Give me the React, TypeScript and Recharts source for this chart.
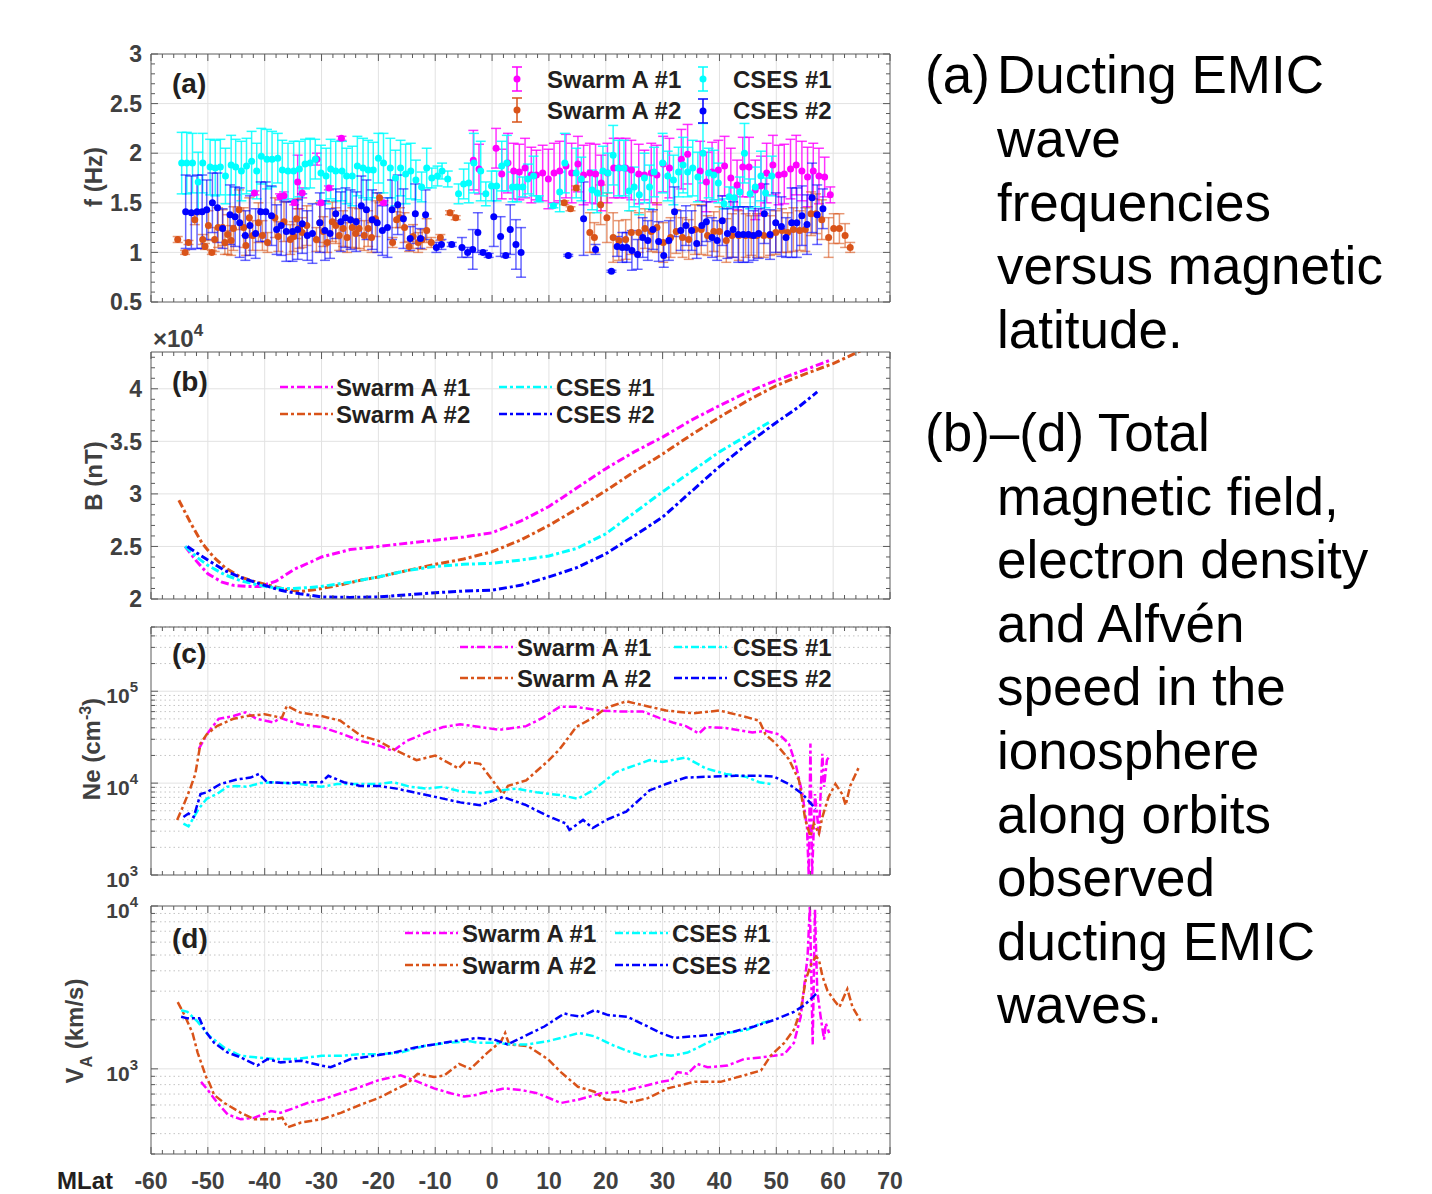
import React from "react";
import { ComposedChart, Line, Scatter, ErrorBar, XAxis, YAxis, CartesianGrid, ReferenceLine } from "recharts";

// ---------------- colours / fonts ----------------
const C_SW1 = "#ff00ff";
const C_SW2 = "#d95319";
const C_CS1 = "#00ffff";
const C_CS2 = "#0000ff";
const FRAME = "#5a5a5a";
const TICK_C = "#404040";
const TEXT_C = "#231f20";
const FONT = "Arial, 'Liberation Sans', Helvetica, sans-serif";
const DASH = "8 3 3 3";

// ---------------- axes ----------------
const X_DOMAIN: [number, number] = [-60, 70];
const X_GRID = [-50, -40, -30, -20, -10, 0, 10, 20, 30, 40, 50, 60];
const X_TICKS: number[] = [];
for (let v = -60; v <= 70; v += 2) X_TICKS.push(v);

const A_Y_MAJOR = [0.5, 1, 1.5, 2, 2.5, 3];
const A_Y_LABELS = ["0.5", "1", "1.5", "2", "2.5", "3"];
const A_Y_TICKS: number[] = [];
for (let i = 5; i <= 30; i++) A_Y_TICKS.push(i / 10);

const B_Y_MAJOR = [2, 2.5, 3, 3.5, 4];
const B_Y_LABELS = ["2", "2.5", "3", "3.5", "4"];
const B_Y_TICKS: number[] = [];
for (let i = 20; i <= 43; i++) B_Y_TICKS.push(i / 10);

const C_Y_MAJOR = [1000, 10000, 100000];
const C_Y_TICKS = [1000, 2000, 3000, 4000, 5000, 6000, 7000, 8000, 9000, 10000, 20000, 30000, 40000, 50000, 60000, 70000, 80000, 90000, 100000, 200000, 300000, 400000, 500000];
const C_Y_MINOR = C_Y_TICKS.filter((v) => !C_Y_MAJOR.includes(v));

const D_Y_MAJOR = [1000, 10000];
const D_Y_TICKS = [300, 400, 500, 600, 700, 800, 900, 1000, 2000, 3000, 4000, 5000, 6000, 7000, 8000, 9000, 10000];
const D_Y_MINOR = D_Y_TICKS.filter((v) => !D_Y_MAJOR.includes(v) && v !== 300);

// ---------------- panel (a): [MLat, f (Hz), error] ----------------
const freqSwarm1: [number, number, number][] = [
  [-41.8, 1.6, 0.02], [-37.3, 1.56, 0.03], [-36.6, 1.57, 0.04], [-34.8, 1.5, 0.02], [-34.2, 1.71, 0.27],
  [-33.4, 1.6, 0.05], [-30.8, 1.94, 0.06], [-30.1, 1.5, 0.02], [-28.7, 1.65, 0.02], [-26.5, 2.15, 0.02],
  [-19.1, 1.5, 0.02], [-3.3, 1.93, 0.3], [-2.3, 1.84, 0.25], [0.7, 2.05, 0.2], [1.7, 1.79, 0.25],
  [2.8, 1.9, 0.3], [3.8, 1.82, 0.28], [4.8, 1.81, 0.28], [5.8, 1.85, 0.3], [6.9, 1.78, 0.28], [7.8, 1.78, 0.25],
  [8.9, 1.8, 0.28], [9.9, 1.74, 0.3], [10.9, 1.8, 0.3], [11.9, 1.82, 0.3], [13.0, 1.87, 0.32], [14.0, 1.8, 0.3],
  [15.1, 1.89, 0.28], [16.1, 1.78, 0.3], [17.2, 1.8, 0.3], [18.2, 1.79, 0.3], [19.2, 1.7, 0.28], [20.3, 1.8, 0.3],
  [21.4, 1.85, 0.3], [22.4, 1.85, 0.3], [23.5, 1.85, 0.3], [24.5, 1.83, 0.3], [25.8, 1.79, 0.3], [26.8, 1.78, 0.25],
  [28.0, 1.8, 0.3], [29.0, 1.78, 0.3], [30.1, 1.89, 0.28], [31.2, 1.85, 0.3], [33.3, 1.94, 0.3], [34.4, 1.99, 0.3],
  [36.6, 1.82, 0.3], [37.7, 1.71, 0.3], [38.7, 1.81, 0.3], [39.8, 1.83, 0.3], [40.9, 1.87, 0.3], [42.0, 1.75, 0.3],
  [43.1, 1.68, 0.25], [44.1, 1.86, 0.3], [45.2, 1.86, 0.3], [46.3, 1.63, 0.3], [47.3, 1.67, 0.3], [48.3, 1.8, 0.3],
  [49.4, 1.88, 0.3], [50.4, 1.78, 0.3], [51.4, 1.79, 0.3], [52.5, 1.84, 0.3], [53.5, 1.88, 0.3], [54.5, 1.82, 0.3],
  [55.5, 1.76, 0.3], [56.5, 1.82, 0.28], [57.5, 1.77, 0.28], [58.5, 1.76, 0.2], [59.5, 1.58, 0.08],
];

const freqSwarm2: [number, number, number][] = [
  [-55.3, 1.13, 0.03], [-54.0, 1.0, 0.02], [-53.4, 1.1, 0.02], [-52.3, 1.33, 0.05], [-50.9, 1.13, 0.05],
  [-50.5, 1.06, 0.03], [-49.9, 1.27, 0.15], [-49.3, 1.0, 0.02], [-48.8, 1.13, 0.12], [-48.2, 1.25, 0.2],
  [-47.4, 1.25, 0.18], [-47.0, 1.1, 0.12], [-46.5, 1.18, 0.2], [-45.9, 1.12, 0.15], [-45.5, 1.24, 0.22],
  [-44.5, 1.43, 0.2], [-43.7, 1.25, 0.2], [-43.3, 1.07, 0.1], [-42.7, 1.35, 0.2], [-42.1, 1.17, 0.15],
  [-41.1, 1.3, 0.2], [-40.4, 1.17, 0.15], [-39.5, 1.1, 0.1], [-38.2, 1.35, 0.2], [-37.6, 1.16, 0.15],
  [-36.6, 1.31, 0.2], [-35.5, 1.13, 0.15], [-34.9, 1.16, 0.15], [-34.4, 1.34, 0.2], [-33.9, 1.24, 0.2],
  [-33.4, 1.2, 0.15], [-32.6, 1.27, 0.2], [-30.9, 1.13, 0.12], [-30.3, 1.3, 0.2], [-29.7, 1.21, 0.15],
  [-29.0, 1.1, 0.1], [-28.1, 1.31, 0.2], [-27.5, 1.27, 0.18], [-26.9, 1.17, 0.15], [-26.2, 1.24, 0.18],
  [-25.5, 1.15, 0.15], [-24.6, 1.25, 0.2], [-24.0, 1.19, 0.15], [-23.4, 1.24, 0.2], [-22.5, 1.17, 0.15],
  [-21.8, 1.24, 0.18], [-21.2, 1.15, 0.15], [-20.5, 1.34, 0.18], [-19.8, 1.55, 0.05], [-17.5, 1.1, 0.05],
  [-16.8, 1.33, 0.08], [-16.2, 1.35, 0.1], [-15.4, 1.25, 0.15], [-14.6, 1.06, 0.05], [-13.9, 1.16, 0.12],
  [-13.0, 1.1, 0.1], [-12.3, 1.13, 0.1], [-11.5, 1.22, 0.12], [-10.7, 1.1, 0.05], [-9.1, 1.15, 0.03],
  [-7.4, 1.4, 0.02], [-6.4, 1.35, 0.02], [12.7, 1.5, 0.02], [13.8, 1.44, 0.02], [14.8, 1.65, 0.02],
  [17.2, 1.2, 0.2], [18.0, 1.15, 0.15], [19.1, 1.48, 0.2], [20.2, 1.35, 0.25], [21.3, 1.15, 0.25],
  [22.3, 1.12, 0.2], [23.5, 1.13, 0.2], [24.5, 1.2, 0.22], [25.8, 1.2, 0.2], [26.9, 1.24, 0.2],
  [28.0, 1.21, 0.2], [29.0, 1.25, 0.25], [30.1, 1.1, 0.2], [31.4, 1.15, 0.2], [32.4, 1.21, 0.22],
  [33.5, 1.15, 0.2], [34.6, 1.13, 0.2], [35.7, 1.23, 0.25], [36.8, 1.23, 0.25], [37.9, 1.17, 0.2],
  [39.0, 1.21, 0.2], [40.0, 1.21, 0.25], [41.2, 1.12, 0.22], [42.2, 1.17, 0.22], [43.4, 1.17, 0.25],
  [44.6, 1.17, 0.22], [45.6, 1.17, 0.2], [46.6, 1.17, 0.22], [47.8, 1.17, 0.22], [48.9, 1.17, 0.2],
  [49.9, 1.2, 0.22], [51.0, 1.22, 0.22], [52.0, 1.2, 0.2], [53.0, 1.23, 0.22], [54.1, 1.22, 0.2],
  [55.1, 1.23, 0.22], [56.1, 1.39, 0.22], [57.0, 1.39, 0.2], [58.0, 1.33, 0.2], [59.2, 1.15, 0.2],
  [60.1, 1.24, 0.15], [61.1, 1.24, 0.15], [62.1, 1.17, 0.12], [63.0, 1.05, 0.05],
];

const freqCses1: [number, number, number][] = [
  [-54.6, 1.9, 0.31], [-53.7, 1.9, 0.31], [-52.7, 1.9, 0.3], [-51.7, 1.71, 0.3], [-50.9, 1.9, 0.3],
  [-49.6, 1.86, 0.28], [-48.7, 1.85, 0.28], [-47.8, 1.86, 0.28], [-46.9, 1.77, 0.28], [-45.9, 1.88, 0.3],
  [-45.1, 1.86, 0.28], [-44.1, 1.82, 0.3], [-43.2, 1.87, 0.28], [-42.3, 1.92, 0.3], [-41.4, 1.82, 0.28],
  [-40.6, 1.97, 0.28], [-39.6, 1.94, 0.3], [-38.7, 1.94, 0.28], [-37.7, 1.95, 0.25], [-36.9, 1.83, 0.3],
  [-35.9, 1.82, 0.28], [-34.9, 1.82, 0.3], [-33.9, 1.84, 0.28], [-32.9, 1.89, 0.25], [-32.0, 1.9, 0.25],
  [-31.1, 1.94, 0.2], [-30.1, 1.8, 0.28], [-29.2, 1.77, 0.28], [-28.4, 1.84, 0.3], [-27.5, 1.82, 0.3],
  [-26.4, 1.82, 0.3], [-25.6, 1.77, 0.28], [-24.6, 1.77, 0.3], [-23.7, 1.87, 0.3], [-22.7, 1.85, 0.3],
  [-21.8, 1.83, 0.3], [-20.9, 1.83, 0.28], [-20.0, 1.95, 0.25], [-19.1, 1.9, 0.3], [-17.9, 1.85, 0.3],
  [-17.0, 1.75, 0.28], [-16.1, 1.85, 0.28], [-15.2, 1.79, 0.3], [-14.3, 1.82, 0.28], [-13.4, 1.73, 0.2],
  [-12.4, 1.66, 0.15], [-11.5, 1.85, 0.2], [-10.6, 1.75, 0.1], [-9.6, 1.77, 0.1], [-8.8, 1.82, 0.08],
  [-7.8, 1.74, 0.08], [-5.9, 1.59, 0.1], [-5.0, 1.69, 0.15], [-4.1, 1.7, 0.2], [-3.2, 1.9, 0.3],
  [-2.0, 1.82, 0.3], [-1.1, 1.59, 0.12], [-0.1, 1.67, 0.15], [0.8, 1.67, 0.15], [1.7, 1.87, 0.25],
  [2.6, 1.9, 0.28], [3.6, 1.66, 0.15], [4.4, 1.66, 0.15], [5.4, 1.66, 0.1], [6.3, 1.74, 0.15],
  [7.3, 1.77, 0.2], [8.2, 1.54, 0.03], [10.8, 1.47, 0.02], [11.9, 1.61, 0.2], [12.8, 1.9, 0.3],
  [14.8, 1.8, 0.25], [15.7, 1.74, 0.22], [17.6, 1.63, 0.2], [18.5, 1.6, 0.2], [19.5, 1.82, 0.25],
  [20.4, 1.8, 0.2], [21.3, 1.98, 0.3], [22.2, 1.85, 0.28], [23.2, 1.85, 0.28], [24.1, 1.62, 0.2],
  [25.0, 1.66, 0.2], [25.9, 1.58, 0.2], [26.8, 1.75, 0.25], [27.7, 1.66, 0.22], [28.5, 1.81, 0.25],
  [30.0, 1.9, 0.3], [30.9, 1.77, 0.25], [31.9, 1.73, 0.25], [32.8, 1.81, 0.25], [33.6, 1.88, 0.28],
  [34.4, 1.81, 0.25], [35.3, 1.85, 0.28], [36.2, 1.76, 0.25], [37.1, 2.0, 0.3], [38.1, 1.8, 0.25],
  [39.0, 1.78, 0.25], [39.8, 1.7, 0.2], [40.8, 1.49, 0.05], [41.7, 1.56, 0.1], [42.6, 1.55, 0.1],
  [43.6, 1.61, 0.15], [44.4, 2.0, 0.3], [45.4, 1.59, 0.15], [46.3, 1.66, 0.2], [47.3, 1.77, 0.25],
  [48.1, 1.6, 0.15], [49.2, 1.77, 0.2],
];

const freqCses2: [number, number, number][] = [
  [-53.9, 1.41, 0.37], [-52.9, 1.4, 0.37], [-51.9, 1.41, 0.37], [-51.0, 1.41, 0.37], [-50.2, 1.43, 0.3],
  [-49.2, 1.5, 0.3], [-48.3, 1.45, 0.35], [-47.4, 1.24, 0.2], [-46.1, 1.38, 0.3], [-45.2, 1.36, 0.3],
  [-44.4, 1.3, 0.35], [-43.4, 1.17, 0.25], [-42.6, 1.27, 0.3], [-41.6, 1.19, 0.25], [-40.7, 1.41, 0.3],
  [-39.8, 1.41, 0.3], [-38.8, 1.37, 0.3], [-37.9, 1.23, 0.25], [-37.1, 1.27, 0.3], [-36.2, 1.21, 0.3],
  [-35.1, 1.21, 0.3], [-34.2, 1.23, 0.3], [-33.4, 1.29, 0.3], [-32.5, 1.17, 0.25], [-31.6, 1.19, 0.3],
  [-30.3, 1.3, 0.3], [-29.4, 1.22, 0.3], [-28.5, 1.19, 0.25], [-27.5, 1.39, 0.25], [-26.6, 1.31, 0.3],
  [-25.8, 1.35, 0.3], [-24.9, 1.33, 0.3], [-23.9, 1.31, 0.3], [-23.0, 1.47, 0.3], [-22.1, 1.43, 0.3],
  [-21.1, 1.33, 0.3], [-20.2, 1.3, 0.3], [-19.3, 1.22, 0.25], [-18.4, 1.25, 0.3], [-17.6, 1.43, 0.3],
  [-16.6, 1.48, 0.3], [-15.6, 1.34, 0.3], [-14.4, 1.14, 0.12], [-13.5, 1.39, 0.3], [-12.6, 1.14, 0.1],
  [-11.7, 1.38, 0.25], [-9.8, 1.05, 0.05], [-8.9, 1.08, 0.05], [-7.1, 1.08, 0.02], [-5.3, 1.05, 0.1],
  [-4.3, 1.0, 0.05], [-3.4, 1.03, 0.2], [-2.5, 1.2, 0.2], [-1.6, 1.0, 0.02], [-0.6, 0.97, 0.02],
  [0.3, 1.36, 0.3], [1.5, 1.16, 0.2], [2.4, 0.97, 0.02], [3.2, 1.23, 0.25], [4.2, 1.08, 0.25],
  [5.1, 1.0, 0.25], [13.4, 0.97, 0.01], [16.1, 1.34, 0.37], [18.2, 1.03, 0.05], [21.0, 0.81, 0.01],
  [22.0, 1.06, 0.1], [22.9, 1.05, 0.15], [23.7, 1.05, 0.15], [24.6, 1.02, 0.2], [25.6, 0.98, 0.15],
  [26.5, 1.15, 0.2], [27.4, 1.12, 0.2], [28.3, 1.23, 0.2], [29.3, 1.11, 0.2], [30.2, 0.97, 0.12],
  [31.1, 1.12, 0.2], [32.1, 1.41, 0.25], [33.2, 1.22, 0.2], [34.1, 1.27, 0.2], [35.1, 1.22, 0.2],
  [36.0, 1.09, 0.15], [36.9, 1.27, 0.2], [37.7, 1.31, 0.2], [38.7, 1.15, 0.2], [39.6, 1.12, 0.2],
  [40.5, 1.32, 0.25], [41.4, 1.19, 0.25], [42.4, 1.23, 0.28], [43.3, 1.18, 0.28], [44.2, 1.18, 0.28],
  [45.1, 1.18, 0.28], [46.0, 1.17, 0.25], [46.9, 1.19, 0.25], [47.9, 1.39, 0.3], [48.9, 1.18, 0.25],
  [49.9, 1.3, 0.3], [50.9, 1.26, 0.3], [51.7, 1.15, 0.2], [52.7, 1.3, 0.35], [53.6, 1.3, 0.35],
  [54.5, 1.37, 0.3], [55.4, 1.28, 0.3], [56.3, 1.55, 0.35], [57.2, 1.38, 0.3], [58.2, 1.44, 0.2],
];

// ---------------- panel (b): [MLat, B (x10^4 nT)] ----------------
const bSwarm1: [number, number][] = [
  [-54, 2.5], [-52, 2.36], [-50, 2.24], [-47.5, 2.16], [-45.5, 2.13], [-43, 2.12], [-40.8, 2.12], [-38, 2.17],
  [-34.9, 2.28], [-32, 2.35], [-30, 2.4], [-25, 2.47], [-20, 2.5], [-15, 2.53], [-10, 2.56], [-5, 2.59],
  [0, 2.63], [5, 2.74], [10, 2.88], [15, 3.06], [20, 3.24], [25, 3.4], [30, 3.54], [35, 3.7], [40, 3.84],
  [45, 3.97], [50, 4.08], [55, 4.18], [59.4, 4.27],
];
const bSwarm2: [number, number][] = [
  [-55.1, 2.94], [-53, 2.72], [-51, 2.53], [-49, 2.4], [-47, 2.3], [-44.3, 2.21], [-42, 2.17], [-40, 2.14],
  [-37, 2.1], [-33.8, 2.07], [-31, 2.09], [-27, 2.13], [-23, 2.18], [-20, 2.21], [-15, 2.27], [-10, 2.33],
  [-5, 2.38], [0, 2.45], [5, 2.56], [10, 2.7], [15, 2.86], [20, 3.03], [25, 3.21], [30, 3.38], [35, 3.56],
  [40, 3.73], [45, 3.89], [50, 4.03], [55, 4.14], [60, 4.24], [64.8, 4.36],
];
const bCses1: [number, number][] = [
  [-54, 2.5], [-52, 2.4], [-50, 2.32], [-47, 2.23], [-44, 2.17], [-40, 2.12], [-37, 2.1], [-34.9, 2.1],
  [-32, 2.11], [-30, 2.12], [-25, 2.16], [-20, 2.21], [-15, 2.27], [-10, 2.31], [-5, 2.33], [0, 2.34],
  [5, 2.37], [10, 2.41], [14.8, 2.48], [20, 2.62], [25, 2.82], [30, 3.02], [35, 3.21], [40, 3.4],
  [45, 3.56], [48.7, 3.68],
];
const bCses2: [number, number][] = [
  [-53.6, 2.5], [-52, 2.44], [-50, 2.37], [-47, 2.27], [-44, 2.2], [-40, 2.13], [-37, 2.08], [-33.8, 2.05],
  [-30, 2.02], [-25, 2.015], [-20, 2.02], [-15, 2.04], [-10, 2.06], [-5, 2.075], [0, 2.085], [5, 2.13],
  [10, 2.21], [15, 2.3], [20, 2.43], [25, 2.6], [30, 2.78], [35, 3.02], [40, 3.26], [45, 3.48], [50, 3.68],
  [54, 3.83], [57.2, 3.97],
];

// ---------------- panel (c): [MLat, Ne (cm^-3)] ----------------
const neSwarm1: [number, number][] = [
  [-51.6, 23440], [-50.2, 33880], [-48.1, 50120], [-45.5, 53700], [-43.4, 58880], [-41.4, 50120],
  [-38.4, 45710], [-37.3, 51290], [-33.8, 43650], [-30, 40740], [-26.1, 33880], [-23.2, 28840],
  [-20, 25700], [-17.4, 22390], [-15.0, 28840], [-11.5, 35480], [-8.6, 40740], [-5.6, 43650],
  [-2.1, 40740], [1.3, 38020], [6.0, 41690], [8.9, 51290], [11.9, 67610], [14.8, 67610], [18.9, 61660],
  [22.4, 60260], [26.5, 60260], [29.4, 51290], [31.8, 45710], [34.1, 41690], [36.4, 34670], [37.6, 40740],
  [41.1, 39810], [44, 37150], [45.8, 35480], [48.1, 37150], [50.5, 33880], [52.2, 26920], [53.4, 16220],
  [54.6, 7590], [55.4, 3310], [55.7, 1000], [56.0, 26920], [56.3, 1000], [56.8, 7590], [57.5, 2820],
  [58.1, 20890], [58.4, 9120], [58.9, 17780], [59.2, 19050],
];
const neSwarm2: [number, number][] = [
  [-55.4, 3980], [-54.4, 5500], [-53.1, 8710], [-52.2, 12590], [-51.3, 26920], [-50.2, 33880],
  [-48.4, 41690], [-45.5, 50120], [-43.1, 53700], [-40, 56230], [-37.0, 51290], [-36.1, 69180],
  [-33.8, 58880], [-30, 53700], [-26.7, 47860], [-23.2, 33110], [-20, 28840], [-17.4, 23440],
  [-13.3, 17780], [-10, 19950], [-5.9, 14450], [-4.8, 16980], [-2.1, 16220], [0.8, 9330], [1.9, 7590],
  [2.8, 9330], [6.0, 10720], [10, 17780], [11.9, 23440], [14.8, 40740], [17.7, 51290], [20.1, 66070],
  [23.6, 77620], [27.1, 69180], [30.6, 61660], [35.3, 57540], [40, 61660], [44, 53700], [47, 47860],
  [48.1, 33880], [49.9, 26920], [52.2, 18200], [54, 10720], [55.1, 3980], [56.0, 2630], [56.6, 3630],
  [57.5, 2820], [58.1, 4270], [59.2, 7080], [60.4, 9770], [61.6, 7590], [62.2, 5750], [63.0, 9330],
  [64.5, 14790],
];
const neCses1: [number, number][] = [
  [-54.3, 3630], [-53.4, 3390], [-51.6, 5250], [-50.2, 6760], [-48.4, 7590], [-46.6, 9120], [-44.9, 9330],
  [-43.1, 9120], [-40.8, 10000], [-38.4, 10230], [-36.1, 10000], [-33.8, 9770], [-30, 9120], [-27.3, 9770],
  [-23.2, 9770], [-20, 9770], [-17.4, 10230], [-14.4, 9120], [-11.5, 8710], [-8.6, 9120], [-5.6, 8130],
  [-2.1, 7760], [1.3, 8320], [4.3, 8710], [7.8, 7940], [11.9, 7410], [15.1, 6760], [17.7, 8320],
  [21.8, 13180], [27.7, 17780], [30, 16980], [34.1, 19050], [37.6, 14450], [41.1, 12590], [44.6, 11750],
  [47, 10230], [49.0, 9770],
];
const neCses2: [number, number][] = [
  [-54.3, 4270], [-53.4, 4680], [-52.5, 4270], [-51.3, 7590], [-50.2, 7940], [-47.8, 9770], [-44.9, 10960],
  [-42.5, 11480], [-41.0, 12590], [-39.6, 10230], [-36.1, 10000], [-32.6, 10230], [-30, 10230],
  [-28.8, 12020], [-26.1, 10230], [-23.2, 9330], [-20, 9330], [-16.8, 8710], [-13.8, 7940], [-10, 7080],
  [-5.6, 6170], [-2.1, 5750], [1.9, 7080], [6.0, 5750], [9.5, 4470], [13.0, 3630], [13.6, 3090],
  [16.0, 3980], [17.7, 3240], [20.1, 3980], [23.6, 4900], [27.7, 8320], [30.6, 9770], [34.1, 11480],
  [38.2, 11750], [42.9, 12020], [47, 12020], [49.6, 11750], [52.2, 9770], [54.6, 7590], [56.9, 5250],
];

// ---------------- panel (d): [MLat, VA (km/s)] ----------------
const vaSwarm1: [number, number][] = [
  [-51.2, 832], [-50, 741], [-48.3, 617], [-46.5, 525], [-44.2, 490], [-41.8, 501], [-38.9, 550],
  [-37.2, 537], [-34.8, 575], [-32.5, 617], [-30, 646], [-26.6, 708], [-23.1, 776], [-20, 851],
  [-16.1, 912], [-13.7, 851], [-10.2, 759], [-7.3, 708], [-4.9, 676], [-2.6, 692], [-1.9, 708],
  [2.2, 759], [5.1, 741], [8.0, 708], [12.1, 617], [15.1, 646], [19.2, 708], [22.7, 724], [26.2, 776],
  [29.7, 832], [31.5, 851], [32.6, 955], [34.4, 933], [36.1, 1072], [37.9, 1023], [41.4, 1047],
  [44.3, 1148], [47.3, 1175], [49.6, 1202], [51.4, 1230], [53.1, 1445], [54.3, 2089], [55.5, 4898],
  [55.9, 10000], [56.4, 1413], [56.8, 9550], [57.2, 3020], [57.8, 2089], [58.4, 1514], [58.7, 1905],
  [59.3, 1660],
];
const vaSwarm2: [number, number][] = [
  [-55.3, 2570], [-54.1, 2138], [-52.7, 1660], [-51.8, 1259], [-50.3, 891], [-49.7, 813], [-48.9, 692],
  [-47.1, 617], [-44.2, 537], [-41.8, 490], [-38.3, 490], [-36.9, 501], [-36.0, 437], [-33.6, 468],
  [-30, 490], [-26.6, 537], [-23.1, 603], [-20, 661], [-17.2, 741], [-14.9, 813], [-13.1, 933],
  [-10.2, 891], [-8.4, 912], [-5.8, 1072], [-3.8, 1000], [-0.8, 1259], [1.6, 1479], [2.3, 1660],
  [3.0, 1413], [6.3, 1380], [9.8, 1148], [12.1, 955], [15.1, 776], [18.0, 724], [20, 646], [22.1, 646],
  [23.8, 617], [27.4, 661], [30.9, 759], [35.6, 832], [40.2, 832], [44.3, 912], [47.3, 977], [49.0, 1202],
  [51.4, 1445], [53.1, 1738], [54.3, 2291], [55.2, 3548], [56.1, 4365], [57.0, 4898], [57.5, 4677],
  [58.1, 3715], [59.0, 3020], [60.2, 2630], [61.1, 2399], [62.5, 3090], [63.4, 2399], [64.9, 1950],
];
const vaCses1: [number, number][] = [
  [-54.7, 2291], [-53.6, 2239], [-51.8, 1950], [-50, 1622], [-47.1, 1349], [-44.2, 1202], [-41.3, 1175],
  [-38.3, 1148], [-34.8, 1148], [-30, 1202], [-26.6, 1202], [-23.1, 1230], [-20, 1230], [-16.1, 1259],
  [-12.0, 1380], [-7.9, 1445], [-3.8, 1479], [-2.5, 1445], [0.4, 1445], [3.3, 1413], [6.3, 1413],
  [9.8, 1479], [12.1, 1549], [15.3, 1660], [18.0, 1585], [20.9, 1413], [23.8, 1288], [27.4, 1175],
  [29.7, 1230], [31.5, 1202], [34.4, 1259], [37.9, 1445], [41.4, 1660], [44.9, 1738], [47.3, 1905],
  [49.3, 1995],
];
const vaCses2: [number, number][] = [
  [-54.7, 2089], [-53.6, 2042], [-51.5, 2042], [-50.6, 1738], [-48.9, 1445], [-46.5, 1259], [-44.2, 1175],
  [-41.3, 1047], [-39.5, 1148], [-37.2, 1096], [-33.6, 1122], [-30, 1047], [-28.4, 1023], [-24.9, 1148],
  [-20.8, 1202], [-17.2, 1259], [-13.7, 1349], [-10.2, 1413], [-6.7, 1479], [-2.6, 1549], [0.4, 1514],
  [2.7, 1413], [5.7, 1585], [9.2, 1820], [12.7, 2188], [13.9, 2138], [15.6, 2089], [18.0, 2291],
  [20.4, 2138], [23.8, 2089], [26.2, 1905], [29.7, 1660], [32.0, 1549], [35.6, 1585], [39.1, 1622],
  [42.6, 1698], [46.1, 1820], [49.6, 1995], [53.1, 2239], [54.9, 2455], [57.0, 2884],
];

const SERIES_NAMES = ["Swarm A #1", "Swarm A #2", "CSES #1", "CSES #2"];

// ---------------- helpers ----------------
const toPts = (a: [number, number][]) => a.map(([lat, v]) => ({ lat, v }));
const toErr = (a: [number, number, number][]) => a.map(([lat, f, err]) => ({ lat, f, err }));

const PLOT_L = 151;
const PLOT_R = 890;
const PLOT_W = PLOT_R - PLOT_L;
const CHART_W = 910;
const M_TOP = 24;

const xTick = (plotH: number, showLabel: boolean) => (p: any) => {
  const { x, y, payload } = p;
  const v = Number(payload.value);
  const major = v % 10 === 0;
  const len = major ? 7 : 4;
  return (
    <g>
      <line x1={x} y1={y} x2={x} y2={y - len} stroke={FRAME} strokeWidth={1} />
      <line x1={x} y1={y - plotH} x2={x} y2={y - plotH + len} stroke={FRAME} strokeWidth={1} />
      {showLabel && major ? (
        <text x={x} y={y + 35} textAnchor="middle" fontFamily={FONT} fontWeight="bold" fontSize={23} fill={TICK_C}>
          {v}
        </text>
      ) : null}
    </g>
  );
};

const yTick = (majors: number[], labels: string[] | null, log: boolean) => (p: any) => {
  const { x, y, payload } = p;
  const v = Number(payload.value);
  const idx = majors.findIndex((m) => Math.abs(m - v) < 1e-6 * Math.max(1, Math.abs(m)));
  const major = idx >= 0;
  const len = major ? 7 : 4;
  return (
    <g>
      <line x1={x} y1={y} x2={x + len} y2={y} stroke={FRAME} strokeWidth={1} />
      <line x1={x + PLOT_W} y1={y} x2={x + PLOT_W - len} y2={y} stroke={FRAME} strokeWidth={1} />
      {major && log ? (
        <text x={x - 13} y={y + 12} textAnchor="end" fontFamily={FONT} fontWeight="bold" fontSize={21} fill={TICK_C}>
          10
          <tspan dy={-11} fontSize={15}>
            {Math.round(Math.log10(v))}
          </tspan>
        </text>
      ) : null}
      {major && !log && labels ? (
        <text x={x - 9} y={y} dy="0.36em" textAnchor="end" fontFamily={FONT} fontWeight="bold" fontSize={23} fill={TICK_C}>
          {labels[idx]}
        </text>
      ) : null}
    </g>
  );
};

type PanelProps = {
  top: number;
  h: number;
  yDomain: [number, number];
  yTicks: number[];
  yMajors: number[];
  yLabels: string[] | null;
  log?: boolean;
  yGrid: number[];
  yMinorGrid?: number[];
  showX?: boolean;
  children: React.ReactNode;
};

function Panel(props: PanelProps) {
  const { top, h, yDomain, yTicks, yMajors, yLabels, log, yGrid, yMinorGrid, showX, children } = props;
  const H = h + M_TOP + 40;
  return (
    <div style={{ position: "absolute", left: 0, top: top - M_TOP, width: CHART_W, height: H }}>
      <ComposedChart width={CHART_W} height={H} margin={{ top: M_TOP, right: CHART_W - PLOT_R, bottom: 10, left: PLOT_L - 60 }}>
        {yMinorGrid ? (
          <CartesianGrid vertical={false} horizontalValues={yMinorGrid} stroke="#c4c4c4" strokeDasharray="1.5 3" />
        ) : null}
        <CartesianGrid horizontalValues={yGrid} verticalValues={X_GRID} stroke="#e2e2e2" />
        <XAxis
          type="number"
          dataKey="lat"
          domain={X_DOMAIN}
          ticks={X_TICKS}
          interval={0}
          allowDataOverflow
          tickLine={false}
          tickSize={0}
          tickMargin={0}
          height={30}
          axisLine={{ stroke: FRAME }}
          tick={xTick(h, !!showX)}
        />
        <YAxis
          type="number"
          scale={log ? "log" : "linear"}
          domain={yDomain}
          ticks={yTicks}
          interval={0}
          allowDataOverflow
          tickLine={false}
          tickSize={0}
          tickMargin={0}
          width={60}
          axisLine={{ stroke: FRAME }}
          tick={yTick(yMajors, yLabels, !!log)}
        />
        {children}
        <ReferenceLine y={yDomain[1]} stroke={FRAME} strokeWidth={1} />
        <ReferenceLine x={X_DOMAIN[1]} stroke={FRAME} strokeWidth={1} />
      </ComposedChart>
    </div>
  );
}

const dot = (c: string) => (p: any) => <circle cx={p.cx} cy={p.cy} r={3.5} fill={c} />;

const scatterSeries = (data: [number, number, number][], c: string, op: number, key: string) => (
  <Scatter key={key} name={key} data={toErr(data)} dataKey="f" fill={c} shape={dot(c)} isAnimationActive={false}>
    <ErrorBar dataKey="err" direction="y" width={5} stroke={c} strokeWidth={1.5} strokeOpacity={op} />
  </Scatter>
);

const lineSeries = (data: [number, number][], c: string, w: number, key: string) => (
  <Line
    key={key}
    name={key}
    data={toPts(data)}
    dataKey="v"
    stroke={c}
    strokeWidth={w}
    strokeDasharray={DASH}
    dot={false}
    activeDot={false}
    isAnimationActive={false}
    type="linear"
  />
);

// ---------------- overlay text ----------------
const txt = { fontFamily: FONT, fontWeight: "bold" as const };

const LegendLines = ({ x1, x2, x3, x4, y1, y2 }: { x1: number; x2: number; x3: number; x4: number; y1: number; y2: number }) => {
  const colors = [C_SW1, C_SW2, C_CS1, C_CS2];
  const pos = [
    [x1, y1],
    [x1, y2],
    [x3, y1],
    [x3, y2],
  ];
  return (
    <g>
      {pos.map(([x, y], i) => (
        <g key={i}>
          <line x1={x} x2={x + 53} y1={y} y2={y} stroke={colors[i]} strokeWidth={2.5} strokeDasharray={DASH} />
          <text x={i < 2 ? x2 : x4} y={y + 8.5} fontSize={24} fill={TEXT_C} {...txt}>
            {SERIES_NAMES[i]}
          </text>
        </g>
      ))}
    </g>
  );
};

const EbMarker = ({ x, y, c }: { x: number; y: number; c: string }) => (
  <g>
    <line x1={x} y1={y - 12} x2={x} y2={y + 12} stroke={c} strokeWidth={1.5} />
    <line x1={x - 5} y1={y - 12} x2={x + 5} y2={y - 12} stroke={c} strokeWidth={1.5} />
    <line x1={x - 5} y1={y + 12} x2={x + 5} y2={y + 12} stroke={c} strokeWidth={1.5} />
    <circle cx={x} cy={y} r={3.5} fill={c} />
  </g>
);

const RIGHT_A = ["Ducting EMIC", "wave", "frequencies", "versus magnetic", "latitude."];
const RIGHT_B = ["magnetic field,", "electron density", "and Alfvén", "speed in the", "ionosphere", "along orbits", "observed", "ducting EMIC", "waves."];

function Overlay() {
  const rt = { fontFamily: FONT, fontSize: 53, fill: "#000000" };
  return (
    <svg width={1432} height={1194} style={{ position: "absolute", left: 0, top: 0, pointerEvents: "none" }}>
      {/* panel labels */}
      <text x={172} y={93} fontSize={28} fill={TEXT_C} {...txt}>(a)</text>
      <text x={172} y={391} fontSize={28} fill={TEXT_C} {...txt}>(b)</text>
      <text x={172} y={663} fontSize={28} fill={TEXT_C} {...txt}>(c)</text>
      <text x={172} y={948} fontSize={28} fill={TEXT_C} {...txt}>(d)</text>

      {/* legend (a) */}
      <EbMarker x={517} y={79} c={C_SW1} />
      <EbMarker x={517} y={110} c={C_SW2} />
      <EbMarker x={703} y={79} c={C_CS1} />
      <EbMarker x={703} y={111} c={C_CS2} />
      <text x={547} y={88} fontSize={24} fill={TEXT_C} {...txt}>{SERIES_NAMES[0]}</text>
      <text x={547} y={119} fontSize={24} fill={TEXT_C} {...txt}>{SERIES_NAMES[1]}</text>
      <text x={733} y={88} fontSize={24} fill={TEXT_C} {...txt}>{SERIES_NAMES[2]}</text>
      <text x={733} y={119} fontSize={24} fill={TEXT_C} {...txt}>{SERIES_NAMES[3]}</text>

      <LegendLines x1={280} x2={336} x3={499} x4={556} y1={387} y2={414} />
      <LegendLines x1={460} x2={517} x3={674} x4={733} y1={647} y2={678} />
      <LegendLines x1={405} x2={462} x3={615} x4={672} y1={933} y2={965} />

      {/* y axis labels */}
      <text transform="translate(101.5,177) rotate(-90)" textAnchor="middle" fontSize={24} fill={TICK_C} {...txt}>f (Hz)</text>
      <text transform="translate(101.5,476) rotate(-90)" textAnchor="middle" fontSize={24} fill={TICK_C} {...txt}>B (nT)</text>
      <text transform="translate(99.5,749) rotate(-90)" textAnchor="middle" fontSize={24} fill={TICK_C} {...txt}>
        Ne (cm
        <tspan dy={-9} fontSize={16}>-3</tspan>
        <tspan dy={9}>)</tspan>
      </text>
      <text transform="translate(83,1031) rotate(-90)" textAnchor="middle" fontSize={24} fill={TICK_C} {...txt}>
        V
        <tspan dy={9} fontSize={16}>A</tspan>
        <tspan dy={-9}> (km/s)</tspan>
      </text>

      {/* x10^4 */}
      <text x={153} y={347} fontSize={24} fill={TICK_C} {...txt}>
        ×10
        <tspan dy={-11} fontSize={17}>4</tspan>
      </text>

      {/* x axis name */}
      <text x={57} y={1189} fontSize={24} fill={TEXT_C} {...txt}>MLat</text>

      {/* right description */}
      <text x={925} y={93} {...rt}>(a)</text>
      {RIGHT_A.map((s, i) => (
        <text key={"a" + i} x={997} y={93 + i * 63.8} {...rt}>{s}</text>
      ))}
      <text x={925} y={451} {...rt}>(b)–(d) Total</text>
      {RIGHT_B.map((s, i) => (
        <text key={"b" + i} x={997} y={451 + (i + 1) * 63.6} {...rt}>{s}</text>
      ))}
    </svg>
  );
}

export default function App() {
  return (
    <div style={{ position: "absolute", left: 0, top: 0, width: 1432, height: 1194, background: "#ffffff", overflow: "hidden" }}>
      <Panel top={54} h={248} yDomain={[0.5, 3]} yTicks={A_Y_TICKS} yMajors={A_Y_MAJOR} yLabels={A_Y_LABELS} yGrid={[1, 1.5, 2, 2.5]}>
        {scatterSeries(freqSwarm1, C_SW1, 0.8, "sw1")}
        {scatterSeries(freqSwarm2, C_SW2, 0.6, "sw2")}
        {scatterSeries(freqCses1, C_CS1, 0.85, "cs1")}
        {scatterSeries(freqCses2, C_CS2, 0.6, "cs2")}
      </Panel>
      <Panel top={352} h={247} yDomain={[2, 4.35]} yTicks={B_Y_TICKS} yMajors={B_Y_MAJOR} yLabels={B_Y_LABELS} yGrid={[2.5, 3, 3.5, 4]}>
        {lineSeries(bSwarm1, C_SW1, 3, "sw1")}
        {lineSeries(bSwarm2, C_SW2, 3, "sw2")}
        {lineSeries(bCses1, C_CS1, 3, "cs1")}
        {lineSeries(bCses2, C_CS2, 3, "cs2")}
      </Panel>
      <Panel top={627} h={248} log yDomain={[1000, 500000]} yTicks={C_Y_TICKS} yMajors={C_Y_MAJOR} yLabels={null} yGrid={[10000, 100000]} yMinorGrid={C_Y_MINOR}>
        {lineSeries(neSwarm1, C_SW1, 2.5, "sw1")}
        {lineSeries(neSwarm2, C_SW2, 2.5, "sw2")}
        {lineSeries(neCses1, C_CS1, 2.5, "cs1")}
        {lineSeries(neCses2, C_CS2, 2.5, "cs2")}
      </Panel>
      <Panel top={906} h={248} log showX yDomain={[300, 10000]} yTicks={D_Y_TICKS} yMajors={D_Y_MAJOR} yLabels={null} yGrid={[1000]} yMinorGrid={D_Y_MINOR}>
        {lineSeries(vaSwarm1, C_SW1, 2.5, "sw1")}
        {lineSeries(vaSwarm2, C_SW2, 2.5, "sw2")}
        {lineSeries(vaCses1, C_CS1, 2.5, "cs1")}
        {lineSeries(vaCses2, C_CS2, 2.5, "cs2")}
      </Panel>
      <Overlay />
    </div>
  );
}
